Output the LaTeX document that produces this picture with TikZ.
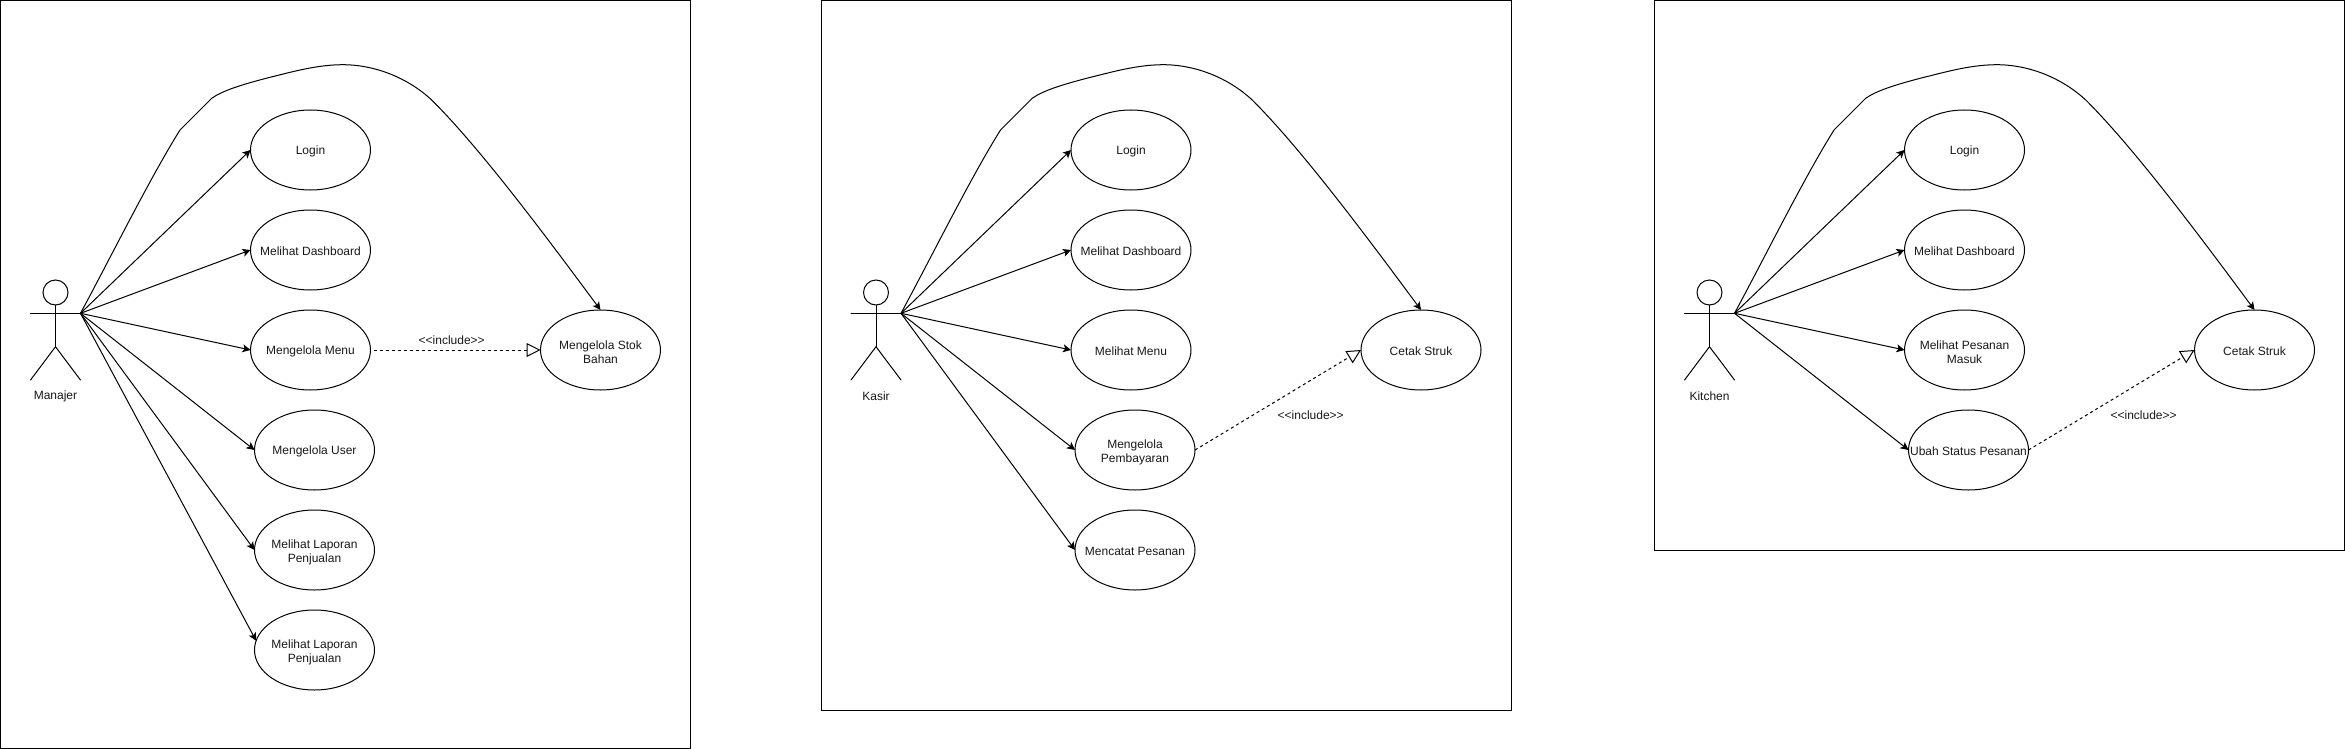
\documentclass[tikz,border=0pt]{standalone}
\usepackage{fontspec}
\setmainfont{Liberation Sans}
\usetikzlibrary{arrows.meta,shapes.geometric}
\tikzset{
  line/.style={line width=1pt,draw=black},
  panelbox/.style={line,fill=white},
  uc/.style={ellipse,line,minimum width=120pt,minimum height=80pt,inner sep=0pt,outer sep=0pt},
  uctext/.style={align=center,inner sep=0pt,yshift=-1.2pt,text=black!90,font=\fontsize{12}{14.6}\selectfont},
  uctexttwo/.style={uctext,yshift=-1.2pt},
  figure/.style={line,line cap=round},
  assoc/.style={line,-{Stealth[length=8pt,width=8pt,inset=2pt]}},
  incl/.style={line,dash pattern=on 3pt off 3pt,-{Triangle[open,fill=white,length=14pt,width=14pt,line width=1pt,sep=0pt]}},
  lbl/.style={inner sep=0pt,yshift=-1pt,text=black!90,font=\fontsize{12}{14.6}\selectfont}
}
% name, x, y, text
\newcommand{\usecase}[4]{\node[uc,label={[uctext]center:{#4}}] (#1) at (#2,#3) {};}
\newcommand{\usecasetwo}[4]{\node[uc,label={[uctexttwo]center:{#4}}] (#1) at (#2,#3) {};}
\newcommand{\inclabel}{<{}<include>{}>}
% prefix, actor label
\newcommand{\stickman}[2]{
  \node[ellipse,line,minimum width=25pt,minimum height=25pt,inner sep=0pt] (#1head) at (55.5,292.5) {};
  \coordinate (#1handL) at (30.5,313.3);
  \coordinate (#1hand) at (80.5,313.3);
  \coordinate (#1hip) at (55.5,346.7);
  \coordinate (#1footL) at (30.5,380);
  \coordinate (#1footR) at (80.5,380);
  \draw[figure] (#1head.south) -- (#1hip);
  \draw[figure] (#1handL) -- (#1hand);
  \draw[figure] (#1footL) -- (#1hip) -- (#1footR);
  \node[lbl] (#1name) at (55.5,395) {#2};
}
% from, to
\newcommand{\archline}[2]{
  \draw[assoc] (#1) .. controls (113,253) and (150,178) .. (180,130)
    -- (211.7,98.3) .. controls (222,91) and (240,85) .. (270,77.3)
    .. controls (290,72.5) and (315,65) .. (341.7,64.7)
    .. controls (375,64.5) and (408,78) .. (431.7,100)
    .. controls (480,148) and (545,235) .. (#2.north);
}
\begin{document}
\begin{tikzpicture}[x=1pt,y=-1pt]
\useasboundingbox (0,0) rectangle (2345,749);
\fill[white] (0,0) rectangle (2345,749);

% Manajer
\draw[panelbox] (0.5,0.5) rectangle (690.5,748.2);
\stickman{a}{Manajer}
\usecase{a1}{310.5}{150}{Login}
\usecase{a2}{310.5}{250}{Melihat Dashboard}
\usecase{a3}{310.5}{350}{Mengelola Menu}
\usecase{a4}{314.5}{450}{Mengelola User}
\usecasetwo{a5}{314.5}{550}{Melihat Laporan\\Penjualan}
\usecasetwo{a6}{314.5}{650}{Melihat Laporan\\Penjualan}
\usecasetwo{a7}{600.5}{350}{Mengelola Stok\\Bahan}
\draw[assoc] (ahand) -- (a1.west);
\draw[assoc] (ahand) -- (a2.west);
\draw[assoc] (ahand) -- (a3.west);
\draw[assoc] (ahand) -- (a4.west);
\draw[assoc] (ahand) -- (a5.west);
\draw[assoc] (ahand) -- (a6.171);
\archline{ahand}{a7}
\draw[incl,shorten <=3.5pt] (a3.east) -- (a7.west);
\node[lbl] (ainc) at (451.7,338.8) {\inclabel};

% Kasir
\begin{scope}[xshift=820.5pt]
\draw[panelbox] (0.5,0.5) rectangle (690.5,710.3);
\stickman{b}{Kasir}
\usecase{b1}{310.5}{150}{Login}
\usecase{b2}{310.5}{250}{Melihat Dashboard}
\usecase{b3}{310.5}{350}{Melihat Menu}
\usecasetwo{b4}{314.5}{450}{Mengelola\\Pembayaran}
\usecase{b5}{314.5}{550}{Mencatat Pesanan}
\usecase{b6}{600.5}{350}{Cetak Struk}
\draw[assoc] (bhand) -- (b1.west);
\draw[assoc] (bhand) -- (b2.west);
\draw[assoc] (bhand) -- (b3.west);
\draw[assoc] (bhand) -- (b4.west);
\draw[assoc] (bhand) -- (b5.west);
\archline{bhand}{b6}
\draw[incl] (b4.east) -- (b6.west);
\node[lbl] (binc) at (490.2,414) {\inclabel};
\end{scope}

% Kitchen
\begin{scope}[xshift=1654pt]
\draw[panelbox] (0.5,0.5) rectangle (690.5,550.3);
\stickman{c}{Kitchen}
\usecase{c1}{310.5}{150}{Login}
\usecase{c2}{310.5}{250}{Melihat Dashboard}
\usecasetwo{c3}{310.5}{350}{Melihat Pesanan\\Masuk}
\usecase{c4}{314.5}{450}{Ubah Status Pesanan}
\usecase{c5}{600.5}{350}{Cetak Struk}
\draw[assoc] (chand) -- (c1.west);
\draw[assoc] (chand) -- (c2.west);
\draw[assoc] (chand) -- (c3.west);
\draw[assoc] (chand) -- (c4.west);
\archline{chand}{c5}
\draw[incl] (c4.east) -- (c5.west);
\node[lbl] (cinc) at (489.6,413.8) {\inclabel};
\end{scope}
\end{tikzpicture}
\end{document}
